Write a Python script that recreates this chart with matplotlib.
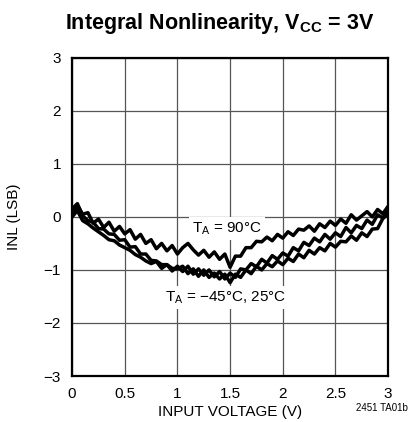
import matplotlib
matplotlib.use("Agg")
import matplotlib.pyplot as plt

plt.rcParams['font.family'] = ['Liberation Sans Narrow', 'Liberation Sans', 'DejaVu Sans']
plt.rcParams['mathtext.fontset'] = 'custom'
plt.rcParams['mathtext.rm'] = 'Liberation Sans'

# input voltage (V), one reading every 50 mV
input_v = [0.00, 0.05, 0.10, 0.15, 0.20, 0.25, 0.30, 0.35, 0.40, 0.45,
           0.50, 0.55, 0.60, 0.65, 0.70, 0.75, 0.80, 0.85, 0.90, 0.95,
           1.00, 1.05, 1.10, 1.15, 1.20, 1.25, 1.30, 1.35, 1.40, 1.45,
           1.50, 1.55, 1.60, 1.65, 1.70, 1.75, 1.80, 1.85, 1.90, 1.95,
           2.00, 2.05, 2.10, 2.15, 2.20, 2.25, 2.30, 2.35, 2.40, 2.45,
           2.50, 2.55, 2.60, 2.65, 2.70, 2.75, 2.80, 2.85, 2.90, 2.95,
           3.00]

# INL (LSB) at TA = 90C
inl_90 = [0.05, 0.22, 0.05, 0.08, -0.12, -0.04, -0.20, -0.10, -0.27, -0.18,
          -0.32, -0.24, -0.42, -0.33, -0.50, -0.43, -0.60, -0.50, -0.64, -0.54,
          -0.70, -0.58, -0.50, -0.62, -0.72, -0.63, -0.76, -0.66, -0.80, -0.70,
          -0.95, -0.74, -0.74, -0.58, -0.58, -0.46, -0.47, -0.38, -0.45, -0.33,
          -0.40, -0.28, -0.35, -0.23, -0.25, -0.17, -0.27, -0.13, -0.20, -0.08,
          -0.16, -0.04, -0.12, 0.04, -0.06, 0.02, 0.10, 0.00, 0.14, 0.06,
          0.20]

# INL (LSB) at TA = -45C
inl_m45 = [0.00, 0.12, -0.07, -0.13, -0.21, -0.28, -0.35, -0.43, -0.45, -0.53,
           -0.58, -0.63, -0.71, -0.76, -0.83, -0.88, -0.84, -0.97, -0.90, -1.02,
           -0.93, -1.03, -0.93, -1.08, -0.98, -1.10, -1.00, -1.13, -1.03, -1.17,
           -1.06, -1.14, -0.98, -1.00, -0.88, -0.94, -0.80, -0.87, -0.73, -0.80,
           -0.68, -0.74, -0.58, -0.64, -0.48, -0.54, -0.40, -0.47, -0.33, -0.42,
           -0.30, -0.37, -0.20, -0.30, -0.16, -0.22, -0.06, -0.14, 0.04, -0.02,
           0.15]

# INL (LSB) at TA = 25C
inl_25 = [0.15, 0.25, 0.02, -0.07, -0.10, -0.22, -0.23, -0.32, -0.33, -0.44,
          -0.43, -0.57, -0.56, -0.70, -0.70, -0.82, -0.83, -0.90, -0.90, -0.97,
          -0.98, -0.93, -1.07, -0.98, -1.12, -1.00, -1.14, -1.06, -1.17, -1.08,
          -1.24, -1.08, -1.14, -1.00, -1.07, -0.93, -1.00, -0.88, -0.94, -0.83,
          -0.90, -0.78, -0.84, -0.70, -0.77, -0.63, -0.70, -0.58, -0.64, -0.50,
          -0.57, -0.46, -0.47, -0.36, -0.44, -0.30, -0.37, -0.23, -0.22, -0.03,
          0.05]

x_ticks = [0, 0.5, 1, 1.5, 2, 2.5, 3]
x_tick_labels = ['0', '0.5', '1', '1.5', '2', '2.5', '3']
y_ticks = [-3, -2, -1, 0, 1, 2, 3]

fig = plt.figure(figsize=(4.12, 4.22), dpi=100)
ax = fig.add_axes([0.175, 0.109, 0.767, 0.754])

for series in (inl_m45, inl_25, inl_90):
    ax.plot(input_v, series, color='black', lw=2.5, zorder=4,
            solid_joinstyle='round')

ax.set_xlim(0, 3)
ax.set_ylim(-3, 3)
ax.set_xticks(x_ticks)
ax.set_xticklabels(x_tick_labels)
ax.set_yticks(y_ticks)
ax.tick_params(length=0, labelsize=11, pad=8)
ax.grid(True, color='#555555', lw=0.9, zorder=1)
for sp in ax.spines.values():
    sp.set_linewidth(1.6)
    sp.set_zorder(5)

ax.set_xlabel('INPUT VOLTAGE (V)', fontsize=11, labelpad=3)
ax.set_ylabel('INL (LSB)', fontsize=11, labelpad=16)

box = dict(facecolor='white', edgecolor='none', pad=2)
ax.text(1.47, -0.22, 'T$_\\mathregular{A}$ = 90°C', fontsize=11,
        ha='center', va='center', bbox=box, zorder=3)
ax.text(1.46, -1.52, 'T$_\\mathregular{A}$ = \u221245°C, 25°C', fontsize=11,
        ha='center', va='center', bbox=box, zorder=3)

fig.text(0.532, 0.945, 'Integral Nonlinearity, V$_\\mathregular{CC}$ = 3V',
         fontsize=15.5, fontweight='bold', ha='center', va='center')
fig.text(0.99, 0.033, '2451 TA01b', fontsize=7, ha='right', va='center')

fig.savefig('out.png', dpi=100)
